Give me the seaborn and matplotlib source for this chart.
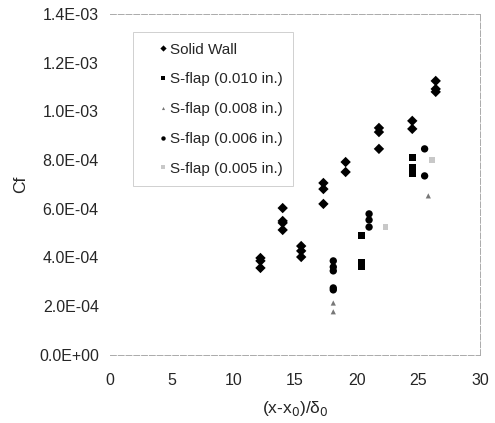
import pandas as pd
import numpy as np
import matplotlib
matplotlib.use("Agg")
import matplotlib.pyplot as plt
from matplotlib.ticker import FuncFormatter
import seaborn as sns

# Skin friction data
solid_x = [12.2, 12.2, 12.2, 14.0, 14.0, 14.0, 14.0, 15.5, 15.5, 15.5,
           17.3, 17.3, 17.3, 19.1, 19.1, 21.8, 21.8, 21.8, 24.5, 24.5,
           26.4, 26.4, 26.4]
solid_cf = [0.398e-3, 0.386e-3, 0.357e-3, 0.603e-3, 0.550e-3, 0.542e-3, 0.513e-3,
            0.447e-3, 0.427e-3, 0.402e-3, 0.706e-3, 0.681e-3, 0.620e-3,
            0.792e-3, 0.751e-3, 0.932e-3, 0.915e-3, 0.846e-3, 0.961e-3, 0.928e-3,
            1.125e-3, 1.092e-3, 1.080e-3]

flap010_x = [20.35, 20.35, 20.35, 24.5, 24.5, 24.5]
flap010_cf = [0.489e-3, 0.378e-3, 0.365e-3, 0.809e-3, 0.768e-3, 0.747e-3]

flap008_x = [18.1, 18.1, 25.8]
flap008_cf = [0.213e-3, 0.177e-3, 0.653e-3]

flap006_x = [18.1, 18.1, 18.1, 18.1, 18.1, 21.0, 21.0, 21.0, 25.5, 25.5]
flap006_cf = [0.386e-3, 0.361e-3, 0.345e-3, 0.275e-3, 0.267e-3,
              0.579e-3, 0.554e-3, 0.525e-3, 0.846e-3, 0.735e-3]

flap005_x = [22.3, 26.1]
flap005_cf = [0.525e-3, 0.800e-3]

series_names = ["Solid Wall", "S-flap (0.010 in.)", "S-flap (0.008 in.)",
                "S-flap (0.006 in.)", "S-flap (0.005 in.)"]

frames = []
for name, xs, ys in zip(series_names,
                        [solid_x, flap010_x, flap008_x, flap006_x, flap005_x],
                        [solid_cf, flap010_cf, flap008_cf, flap006_cf, flap005_cf]):
    frames.append(pd.DataFrame({"x": xs, "cf": ys, "series": name}))
df = pd.concat(frames, ignore_index=True)

sns.set_style("white")
plt.rcParams['font.family'] = ['Liberation Sans', 'DejaVu Sans']

fig = plt.figure(figsize=(4.95, 4.23), dpi=100)
ax = fig.add_axes([0.222, 0.161, 0.748, 0.806])

markers = {"Solid Wall": "D", "S-flap (0.010 in.)": "s", "S-flap (0.008 in.)": "^",
           "S-flap (0.006 in.)": "o", "S-flap (0.005 in.)": "s"}
palette = {"Solid Wall": "black", "S-flap (0.010 in.)": "black",
           "S-flap (0.008 in.)": "#777777", "S-flap (0.006 in.)": "black",
           "S-flap (0.005 in.)": "#c8c8c8"}
sizes = {"Solid Wall": 28, "S-flap (0.010 in.)": 26, "S-flap (0.008 in.)": 14,
         "S-flap (0.006 in.)": 28, "S-flap (0.005 in.)": 14}

sns.scatterplot(data=df, x="x", y="cf", hue="series", style="series",
                size="series", sizes=sizes, markers=markers, palette=palette,
                hue_order=series_names, style_order=series_names,
                size_order=series_names, edgecolor="none", ax=ax)

ax.set_xlim(0, 30)
ax.set_ylim(0, 1.4e-3)
ax.set_xticks([0, 5, 10, 15, 20, 25, 30])
ax.set_yticks(np.arange(0, 1.41e-3, 0.2e-3))
ax.yaxis.set_major_formatter(FuncFormatter(lambda v, p: f"{v:.1E}"))
ax.tick_params(labelsize=11.5, length=3, color="#999999")
ax.tick_params(axis="x", pad=10)
ax.tick_params(axis="y", pad=5)
ax.set_xlabel("(x-x$_0$)/δ$_0$", fontsize=12.5, labelpad=8)
ax.set_ylabel("Cf", fontsize=12.5, labelpad=8)

for side in ["top", "right", "bottom"]:
    ax.spines[side].set_color("#aaaaaa")
    ax.spines[side].set_linewidth(0.7)
    ax.spines[side].set_linestyle((0, (6, 2)))
ax.spines["left"].set_visible(False)

leg = ax.legend(loc="upper left", bbox_to_anchor=(0.062, 0.947), fontsize=11,
                frameon=True, fancybox=False, labelspacing=1.03,
                handlelength=2.6, handletextpad=-0.9, markerscale=0.6,
                borderpad=0.7, borderaxespad=0)
leg.get_frame().set_edgecolor("#bbbbbb")
leg.get_frame().set_linewidth(0.6)

fig.savefig("out.png", dpi=100)
